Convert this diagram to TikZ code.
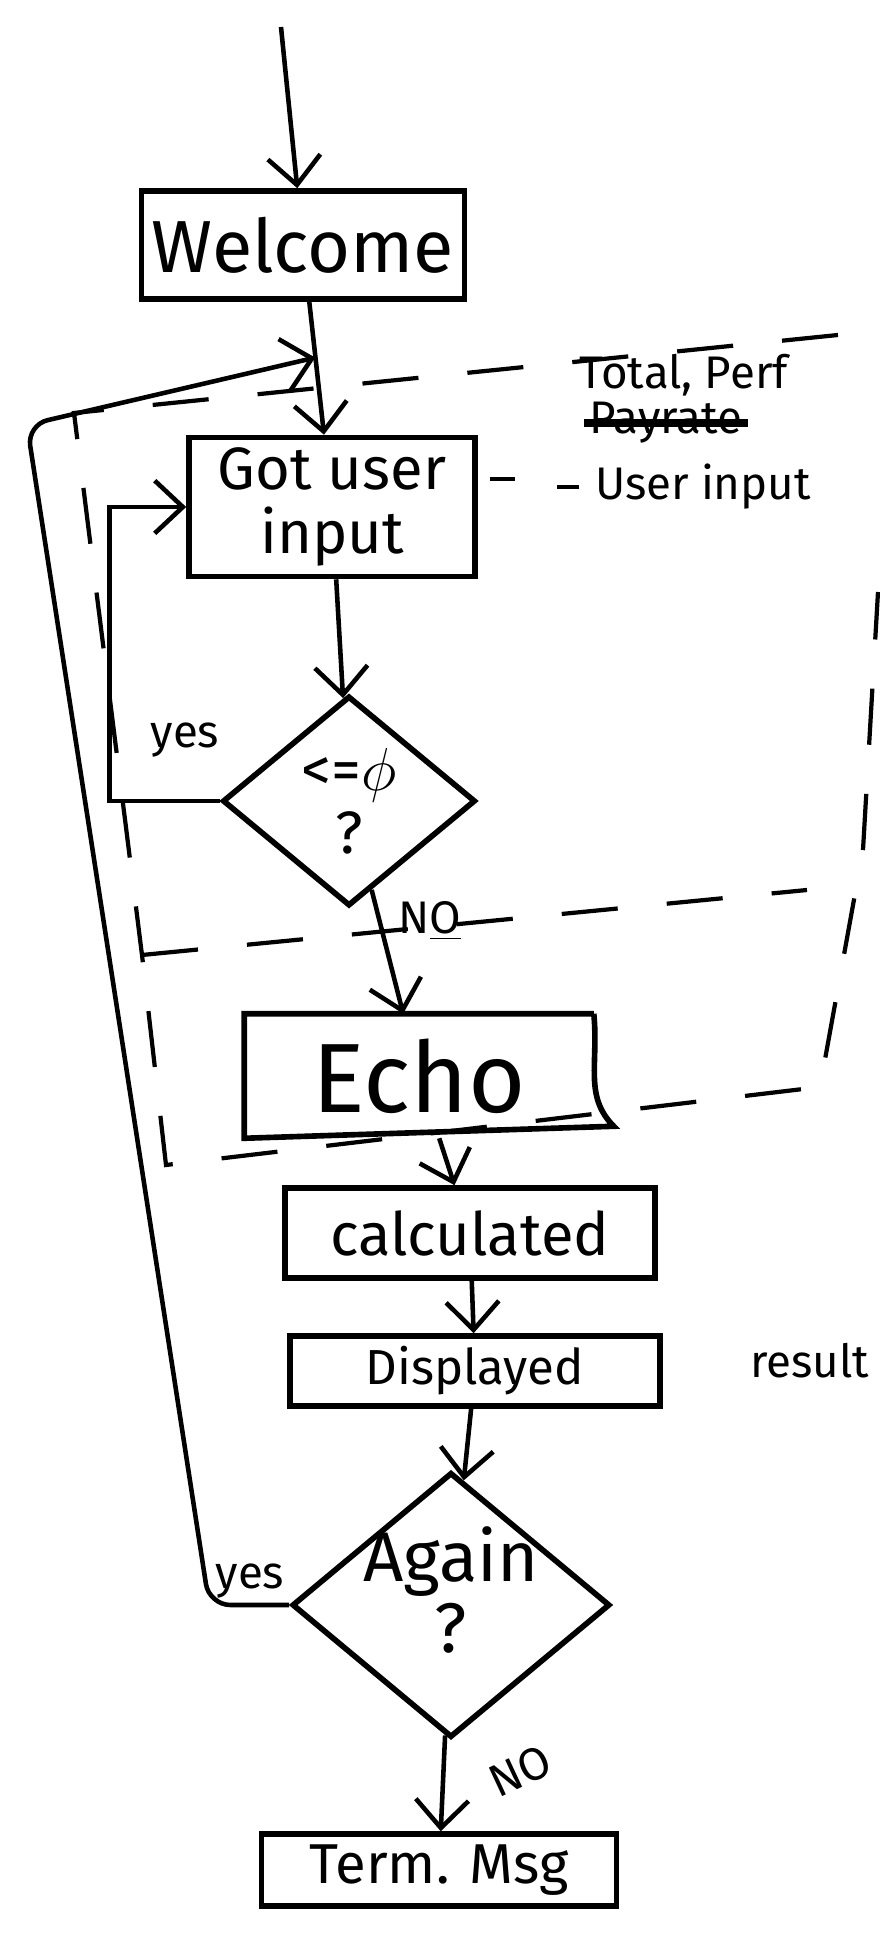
\documentclass[tikz,border=0pt]{standalone}
\usepackage{fontspec}
\setmainfont{Fira Sans}
\usetikzlibrary{shapes.geometric, positioning, arrows.meta, calc}

\begin{document}
\begin{tikzpicture}[
  line width=1.3pt,
  box/.style={
    draw=black,
    line width=1.6pt,
    align=center,
    inner sep=3pt,
  },
  decision/.style={
    draw=black,
    line width=1.6pt,
    diamond,
    align=center,
    inner sep=0pt,
  },
  flow/.style={
    -{Straight Barb[length=8pt,width=15pt]},
    line width=1.3pt,
  },
  note/.style={
    font=\fontsize{13}{15}\selectfont,
    inner sep=1pt,
  },
  zone/.style={
    dash pattern=on 16pt off 14pt,
    line width=1.2pt,
  }
]
  \useasboundingbox (0,0) rectangle (8.8,19.33);

  % === main flow ===
  \coordinate (start) at (2.81,19.06);
  \node[box, minimum width=3cm, minimum height=1.08cm, font=\fontsize{21}{22}\selectfont] (wel) at (3.03,16.88) {Welcome};
  \node[box, minimum width=2.86cm, minimum height=1.32cm, font=\fontsize{17}{18}\selectfont] (got) at (3.32,14.26) {Got user\\ input};
  \node[decision, minimum width=2.53cm, minimum height=2.1cm,
    label={[align=center, font=\fontsize{17}{18}\selectfont]center:{<=}$\phi$\\ ?}] (chk) at (3.49,11.32) {};
  \node[minimum width=3.45cm, minimum height=1.2cm, font=\fontsize{28}{30}\selectfont] (echo) at (4.19,8.57) {Echo};
  \node[box, minimum width=3.7cm, minimum height=0.9cm, font=\fontsize{17}{18}\selectfont] (calc) at (4.7,7.0) {calculated};
  \node[box, minimum width=3.7cm, minimum height=0.62cm, font=\fontsize{14}{15}\selectfont] (disp) at (4.75,5.62) {Displayed};
  \node[decision, minimum width=3.18cm, minimum height=2.65cm,
    label={[align=center, font=\fontsize{20}{20}\selectfont, yshift=0.15cm]center:Again\\ ?}] (again) at (4.51,3.28) {};
  \node[box, minimum width=3.55cm, minimum height=0.68cm, font=\fontsize{16}{17}\selectfont] (term) at (4.39,0.63) {Term. Msg};

  % Echo box with the curled right edge
  \draw[line width=1.6pt] (echo.north east) -- (echo.north west) -- (echo.south west) -- ($(echo.south east)+(0.2,0.12)$)
    .. controls +(-0.3,0.3) and +(0.05,-0.5) .. (echo.north east);

  % notes
  \node[note] (n-tot) at (6.84,15.58) {Total, Perf};
  \node[note] (n-pay) at (6.66,15.1) {Payrate};
  \draw[line width=2.4pt] (n-pay.west) -- (n-pay.east);
  \node[note] (n-inp) at (7.03,14.46) {User input};
  \draw ($(got.east)+(0.12,0.28)$) -- ++(0.25,0);
  \draw ($(n-inp.west)+(-0.1,0)$) -- ++(-0.22,0);
  \node[note, anchor=east] (n-res) at (8.75,5.72) {result};

  % arrows
  \draw[flow] (start) -- (wel);
  \draw[flow] (wel) -- (got);
  \draw[flow] (got) -- (chk);
  \draw[flow] (chk) -- (echo);
  \draw[flow] (echo) -- (calc);
  \draw[flow] (calc) -- (disp);
  \draw[flow] (disp) -- (again);
  \draw[flow] (again) -- (term);

  % loops back
  \draw[flow] (chk.west) -- ++(-1.1,0) |- (got.west);
  \node[note] (yes1) at (1.85,11.93) {yes};
  \node[note] (no1) at (4.3,10.12) {N\underline{O}};
  \coordinate (join) at ($(wel.south)!0.42!(got.north)$);
  \draw[flow, rounded corners=6pt] (again.west) -- ++(-0.8,0) -- (0.27,15.08) -- (join);
  \node[note] (yes2) at (2.5,3.52) {yes};
  \node[note, rotate=25] (no2) at (5.2,1.62) {NO};

  % dashed zone round the input and echo steps
  \draw[zone] (8.38,15.98) -- (0.74,15.2) -- (1.42,9.78) -- (1.66,7.68) -- (8.2,8.46) -- (8.63,10.83) -- (8.78,13.41);
  \draw[zone] (1.42,9.78) -- (8.07,10.43);

\end{tikzpicture}
\end{document}
